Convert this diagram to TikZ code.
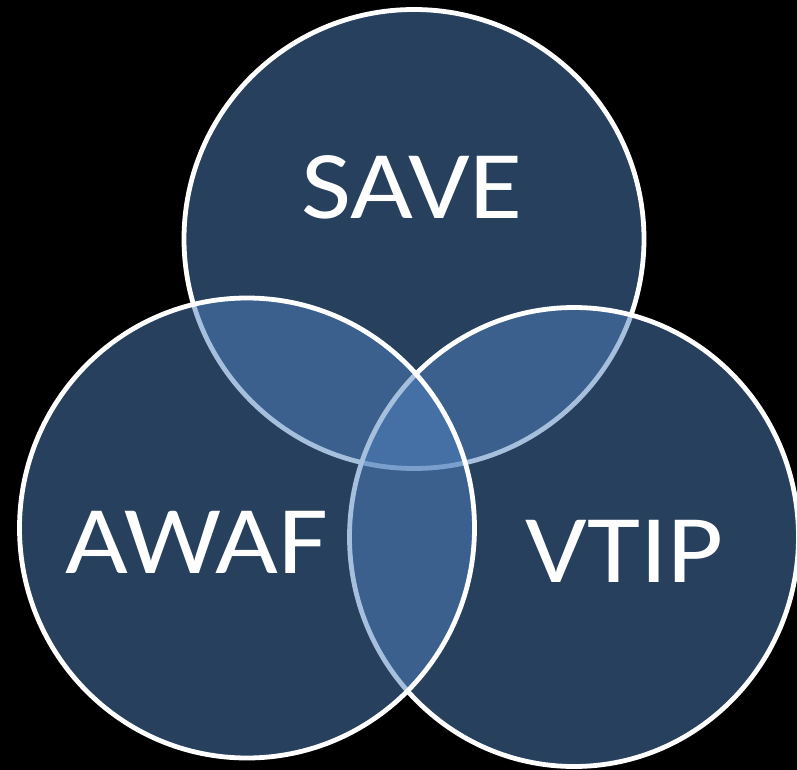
\documentclass[tikz,border=0pt]{standalone}
\usepackage{fontspec}
\setmainfont{Carlito}
\usepackage{tikz}
\usetikzlibrary{positioning}
\definecolor{VennBlue}{RGB}{79,129,189}

\begin{document}
\begin{tikzpicture}[
    x=1pt, y=-1pt,
    every node/.style={inner sep=0pt},
    vennset/.style={draw=white, line width=4.8pt, fill=VennBlue, fill opacity=0.5},
    vennlabel/.style={text=white, font=\fontsize{97}{100}\selectfont, xscale=1.12},
  ]
  % Background
  \fill[black] (0,0) rectangle (797,770);
  \useasboundingbox (0,0) rectangle (797,770);

  % Sets: top, right, left
  \path[vennset] (414,239) ellipse [x radius=230pt, y radius=229.5pt];
  \path[vennset] (574,537) ellipse [x radius=224.5pt, y radius=229.5pt];
  \path[vennset] (247,528) ellipse [x radius=227.5pt, y radius=230pt];

  % Labels
  \node[vennlabel] (save) at (412,187) {SAVE};
  \node[vennlabel] (awaf) at (197,542) {AWAF};
  \node[vennlabel] (vtip) at (625,551) {VTIP};
\end{tikzpicture}
\end{document}
